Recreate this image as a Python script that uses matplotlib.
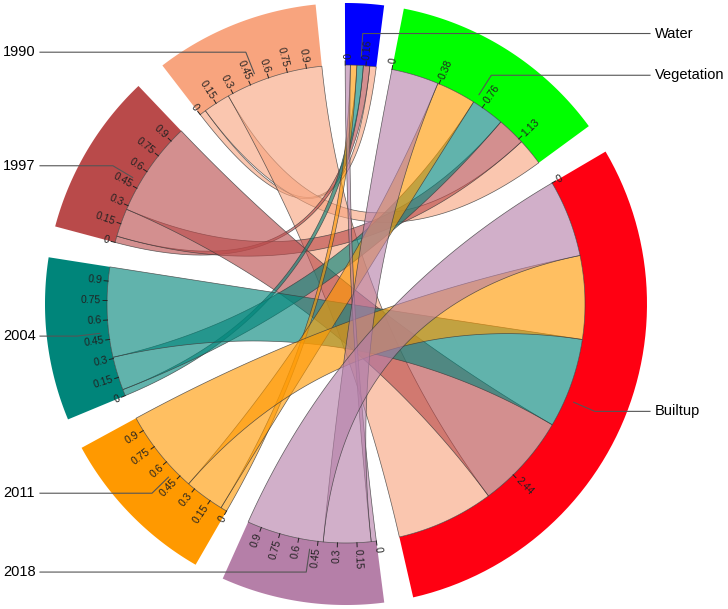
import numpy as np
import matplotlib.pyplot as plt
from matplotlib.patches import Polygon

# -----------------------------
# Données (part de chaque année vers chaque classe)
# -----------------------------
years = ['2018', '2011', '2004', '1997', '1990']
classes = ['Water', 'Vegetation', 'Builtup']
water = [0.04, 0.05, 0.05, 0.05, 0.05]
vegetation = [0.37, 0.31, 0.26, 0.22, 0.21]
builtup = [0.60, 0.65, 0.70, 0.74, 0.76]

year_colors = ['#B57FA8', '#FF9900', '#00857A', '#B94A4A', '#F8A47E']
class_colors = ['#0000FF', '#00FF00', '#FF0012']

year_ticks = [0, 0.15, 0.3, 0.45, 0.6, 0.75, 0.9]
class_ticks = [[0, 0.16], [0, 0.38, 0.76, 1.13], [0, 2.44]]

# -----------------------------
# Géométrie
# -----------------------------
cx, cy = 346, 304
r_out, r_in = 301, 239
gaps = [3.8, 5.8, 5.6, 5.8, 6.0, 6.0, 6.0, 5.6]   # écart après chaque secteur
start_angle = 90.2

flows = np.array([water, vegetation, builtup]).T   # lignes = années
names = classes + years
colors = class_colors + year_colors
sizes = list(flows.sum(axis=0)) + list(flows.sum(axis=1))
dpu = (360 - sum(gaps)) / sum(sizes)

starts = []
a = start_angle
for s, g in zip(sizes, gaps):
    starts.append(a)
    a = a - s * dpu - g


def pt(theta, r):
    t = np.radians(theta)
    return np.array([cx + r * np.cos(t), cy - r * np.sin(t)])


def arc(a1, a2, r, n=60):
    th = np.radians(np.linspace(a1, a2, n))
    return np.column_stack([cx + r * np.cos(th), cy - r * np.sin(th)])


def bezier(p0, p2, n=60):
    t = np.linspace(0, 1, n)[:, None]
    c = np.array([cx, cy])
    return (1 - t) ** 2 * p0 + 2 * (1 - t) * t * c + t ** 2 * p2


fig = plt.figure(figsize=(7.28, 6.09), dpi=100)
ax = fig.add_axes([0, 0, 1, 1])
ax.set_xlim(0, 728)
ax.set_ylim(609, 0)
ax.axis('off')
plt.rcParams['font.family'] = ['Liberation Sans', 'DejaVu Sans']

# secteurs
for i, name in enumerate(names):
    a1 = starts[i]
    a2 = a1 - sizes[i] * dpu
    poly = np.vstack([arc(a1, a2, r_out), arc(a2, a1, r_in)])
    ax.add_patch(Polygon(poly, closed=True, facecolor=colors[i], edgecolor='none'))

# liens : dans une année, ordre Water -> Vegetation -> Builtup
n_cls = len(classes)
links = []
for j in range(len(years)):
    ys = starts[n_cls + j]
    pos = 0.0
    for k in range(n_cls):
        v = flows[j, k]
        links.append((j, k, ys - pos * dpu, ys - (pos + v) * dpu))
        pos += v
# dans une classe, ordre 2018 -> 1990
seg = {}
for k in range(n_cls):
    p = 0.0
    for j in range(len(years)):
        v = flows[j, k]
        seg[(j, k)] = (starts[k] - p * dpu, starts[k] - (p + v) * dpu)
        p += v

for j in reversed(range(len(years))):
    for (jj, k, s1, s2) in links:
        if jj != j:
            continue
        t1, t2 = seg[(j, k)]
        path = np.vstack([
            arc(s1, s2, r_in),
            bezier(pt(s2, r_in), pt(t1, r_in)),
            arc(t1, t2, r_in),
            bezier(pt(t2, r_in), pt(s1, r_in)),
        ])
        ax.add_patch(Polygon(path, closed=True, facecolor=year_colors[j], alpha=0.62,
                             edgecolor='none'))
        ax.add_patch(Polygon(path, closed=True, facecolor='none', edgecolor='#3a3a3a',
                             linewidth=0.5, alpha=0.8))

# graduations
tick_sets = class_ticks + [year_ticks] * len(years)
for i, ticks in enumerate(tick_sets):
    for v in ticks:
        th = starts[i] - v * dpu
        p1, p2 = pt(th, r_in), pt(th, r_in + 4)
        ax.plot([p1[0], p2[0]], [p1[1], p2[1]], color='#222222', lw=0.7)
        thn = (th + 180) % 360 - 180
        lab = f'{v:g}'
        p = pt(th, r_in + 6)
        if -90 <= thn <= 90:
            ax.text(p[0], p[1], lab, rotation=thn, rotation_mode='anchor',
                    ha='left', va='center', fontsize=7.5, color='#222222')
        else:
            ax.text(p[0], p[1], lab, rotation=thn + 180, rotation_mode='anchor',
                    ha='right', va='center', fontsize=7.5, color='#222222')

# étiquettes des secteurs
for i, name in enumerate(names):
    mid = starts[i] - sizes[i] * dpu / 2
    p1, p2 = pt(mid, 248), pt(mid, 271)
    if np.cos(np.radians(mid)) >= 0:
        xe, xt = 650, 655
    else:
        xe, xt = 40, 3
    ax.plot([p1[0], p2[0], xe], [p1[1], p2[1], p2[1]], color='#555555', lw=0.8)
    ax.text(xt, p2[1], name, ha='left', va='center', fontsize=10.5, color='black')

plt.savefig('out.png', dpi=100)
